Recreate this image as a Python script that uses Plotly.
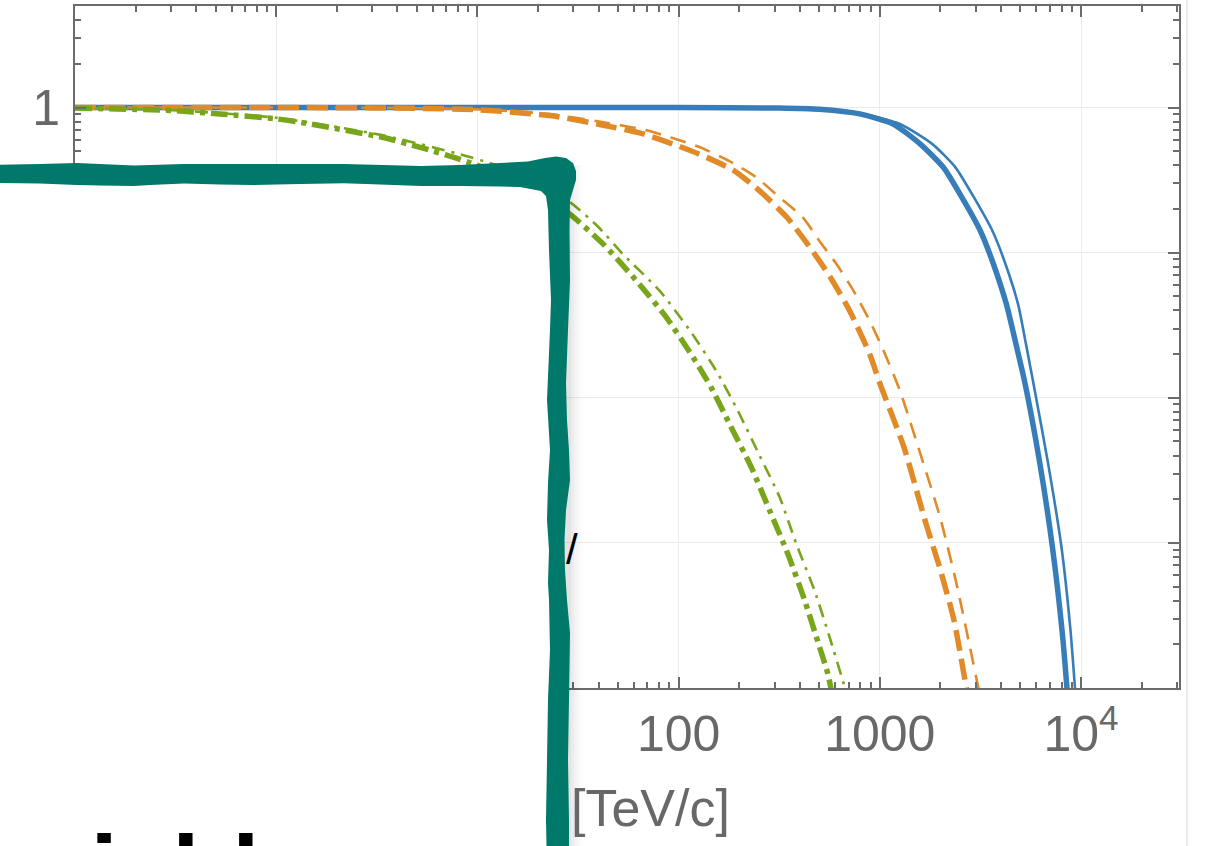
import plotly.graph_objects as go

# Surviving fraction versus momentum p [TeV/c] for three models,
# each shown for two parameter sets (thick / thin line).
p_blue_a = [0.1, 10, 100, 316, 501, 794, 1164, 1585, 2065, 2512, 3162, 3673, 4266, 4786, 5248, 6252, 7211, 8054, 8511, 8710]
v_blue_a = [1.0, 1.0, 1.0, 0.993, 0.973, 0.904, 0.771, 0.562, 0.389, 0.251, 0.141, 0.0832, 0.0437, 0.0224, 0.0129, 0.00349, 0.000933, 0.000247, 0.0001, 0.000063]

p_blue_b = [0.1, 10, 100, 316, 501, 794, 1259, 1820, 2371, 2884, 3631, 4217, 4875, 5309, 5781, 6871, 7998, 8872, 9333, 9550]
v_blue_b = [1.0, 1.0, 1.0, 0.994, 0.976, 0.912, 0.771, 0.562, 0.389, 0.251, 0.141, 0.0832, 0.0437, 0.0240, 0.0129, 0.00349, 0.000933, 0.000247, 0.0001, 0.000063]

p_orange_a = [0.1, 1, 3.16, 10, 22.9, 41.7, 66.1, 93.3, 126, 186, 251, 347, 447, 562, 708, 891, 1000, 1318, 1698, 1995, 2344, 2692, 2818]
v_orange_a = [1.0, 1.0, 0.995, 0.966, 0.881, 0.759, 0.661, 0.562, 0.479, 0.372, 0.269, 0.174, 0.110, 0.0692, 0.0398, 0.0200, 0.0126, 0.00457, 0.00135, 0.00066, 0.000288, 0.0001, 0.00007]

p_orange_b = [0.1, 1, 3.16, 10, 22.9, 41.7, 66.1, 93.3, 126, 179, 243, 318, 416, 502, 610, 738, 891, 1047, 1259, 1585, 1991, 2404, 2805, 3090, 3236]
v_orange_b = [1.0, 1.0, 0.996, 0.973, 0.902, 0.794, 0.708, 0.617, 0.537, 0.427, 0.331, 0.240, 0.174, 0.120, 0.0832, 0.0550, 0.0339, 0.0209, 0.0112, 0.00417, 0.00151, 0.000525, 0.000191, 0.0001, 0.00007]

p_green_a = [0.1, 0.302, 0.525, 1, 1.30, 3.36, 5.20, 8.07, 12.6, 20.0, 28.7, 42.1, 61.7, 86.9, 118, 145, 179, 230, 284, 350, 424, 502, 553, 589]
v_green_a = [0.993, 0.955, 0.904, 0.836, 0.794, 0.624, 0.532, 0.443, 0.355, 0.257, 0.185, 0.115, 0.0641, 0.0358, 0.0190, 0.0118, 0.00661, 0.00331, 0.00166, 0.000832, 0.000398, 0.000191, 0.000124, 0.000079]

p_green_b = [0.1, 0.302, 1, 3.36, 8.07, 12.6, 20.0, 28.7, 39.8, 52.8, 80.4, 114, 154, 197, 253, 318, 385, 474, 564, 670, 692]
v_green_b = [0.993, 0.959, 0.851, 0.646, 0.479, 0.398, 0.302, 0.224, 0.151, 0.0979, 0.0547, 0.0290, 0.0153, 0.00813, 0.00398, 0.00206, 0.00098, 0.000468, 0.000222, 0.0001, 0.000079]

# decade ticks; labels that sit under the framed overlay are left blank
x_tickvals = [0.1, 1, 10, 100, 1000, 10000]
x_ticktext = ["", "", "", "100", "1000", "10<sup>4</sup>"]
y_tickvals = [0.0001, 0.001, 0.01, 0.1, 1]
y_ticktext = ["", "", "", "", "1"]

BLUE = "#377db9"
ORANGE = "#e08b28"
GREEN = "#78a519"
TEAL = "#00786a"
AXIS = "#6b6b6b"
FONT = "Liberation Sans, Arial, sans-serif"

series = [
    (p_blue_a, v_blue_a, BLUE, 5.5, "solid"),
    (p_blue_b, v_blue_b, BLUE, 2.6, "solid"),
    (p_orange_a, v_orange_a, ORANGE, 5.5, "21px,8px"),
    (p_orange_b, v_orange_b, ORANGE, 2.6, "16px,10px"),
    (p_green_a, v_green_a, GREEN, 5.5, "17px,6px,5px,6px"),
    (p_green_b, v_green_b, GREEN, 2.6, "13px,7px,3px,7px"),
]

fig = go.Figure()
for px_, pv_, col, w, dash in series:
    fig.add_trace(go.Scatter(
        x=px_, y=pv_, mode="lines",
        line=dict(color=col, width=w, dash=dash, shape="spline", smoothing=0.6),
        showlegend=False, hoverinfo="skip",
    ))

W, H = 1209, 846
L, R, T, B = 75, 30, 6, 158
PW, PH = W - L - R, H - T - B


def fx(x):
    return (x - L) / PW


def fy(y):
    return (H - B - y) / PH


def path(points):
    s = "M " + " L ".join(f"{fx(x):.5f},{fy(y):.5f}" for x, y in points)
    return s + " Z"


axis_common = dict(
    type="log", automargin=False,
    showline=True, linecolor=AXIS, linewidth=2, mirror="allticks",
    ticks="inside", ticklen=11, tickwidth=1.8, tickcolor=AXIS,
    tickmode="array",
    tickfont=dict(family=FONT, size=50, color="#686868"),
    showgrid=True, gridcolor="#ebebeb", gridwidth=1,
    zeroline=False,
    minor=dict(ticks="inside", ticklen=6, tickwidth=1.5, tickcolor=AXIS,
               dtick="D1", showgrid=False),
)

fig.update_xaxes(range=[-1, 4.487], tickvals=x_tickvals, ticktext=x_ticktext,
                 ticklabelstandoff=1, **axis_common)
fig.update_yaxes(range=[-4, 0.7], tickvals=y_tickvals, ticktext=y_ticktext,
                 ticklabelstandoff=3, **axis_common)

# hand-drawn frame covering the lower-left part of the chart
top_upper = [(-20, 165), (40, 164), (77, 163), (134, 165.5), (184, 164), (253, 164),
             (344, 164), (421, 166), (459, 165), (500, 163), (528, 161.5), (545, 158),
             (556, 156.5), (566, 158), (573, 163), (576, 171), (576, 180), (573, 190),
             (570, 200), (569.5, 230), (570, 280), (568, 330), (566, 383), (567, 420),
             (569, 450), (570, 480), (566, 510), (564.5, 540), (565, 570), (567, 600),
             (570, 633), (569, 700), (568, 760), (569, 820), (569, 870)]
inner = [(547, 870), (546, 820), (547, 760), (548, 700), (550, 650), (549, 600),
         (548, 583), (549, 550), (547, 520), (548, 483), (550, 450), (547, 400),
         (550, 330), (551, 300), (549, 250), (548, 210), (546, 196), (541, 191),
         (520, 187), (500, 186.5), (460, 186), (421, 186), (380, 184.5), (344, 183.3),
         (300, 184), (253, 185), (220, 184.5), (184, 183.5), (150, 185), (134, 186),
         (100, 185.5), (77, 185), (40, 183.5), (0, 183), (-20, 183)]

shapes = []
shapes.append(dict(type="rect", xref="paper", yref="paper", layer="above",
                   x0=fx(-20), x1=fx(557), y0=fy(178), y1=fy(880),
                   fillcolor="white", line=dict(width=0)))
for i, a in enumerate([0.075, 0.06, 0.045, 0.032, 0.02, 0.01]):
    shapes.append(dict(type="rect", xref="paper", yref="paper", layer="above",
                       x0=fx(560), x1=fx(568 + 3 * (i + 1)), y0=fy(165), y1=fy(880),
                       fillcolor=f"rgba(0,0,0,{a / 2.2:.4f})", line=dict(width=0)))
shapes.append(dict(type="path", xref="paper", yref="paper", layer="above",
                   path=path(top_upper + inner), fillcolor=TEAL,
                   line=dict(width=0)))
shapes.append(dict(type="line", xref="paper", yref="paper", layer="above",
                   x0=fx(1187), x1=fx(1187), y0=fy(0), y1=fy(846),
                   line=dict(color="#e4e4e4", width=1.5)))

annotations = [
    dict(text="[TeV/c]", xref="paper", yref="paper", x=fx(650), y=fy(808),
         xanchor="center", yanchor="middle", showarrow=False,
         font=dict(family=FONT, size=52, color="#686868")),
    dict(text="/", xref="paper", yref="paper", x=fx(571.5), y=fy(549.5),
         xanchor="center", yanchor="middle", showarrow=False,
         font=dict(family=FONT, size=42, color="black")),
    dict(text="yield", xref="paper", yref="paper", x=fx(34), y=fy(812.5),
         xanchor="left", yanchor="top", showarrow=False,
         font=dict(family=FONT, size=98, color="black", weight="bold")),
]

fig.update_layout(
    width=W, height=H,
    margin=dict(l=L, r=R, t=T, b=B, pad=0),
    paper_bgcolor="white", plot_bgcolor="white",
    shapes=shapes, annotations=annotations,
    showlegend=False,
)

fig.write_html("out.html")
